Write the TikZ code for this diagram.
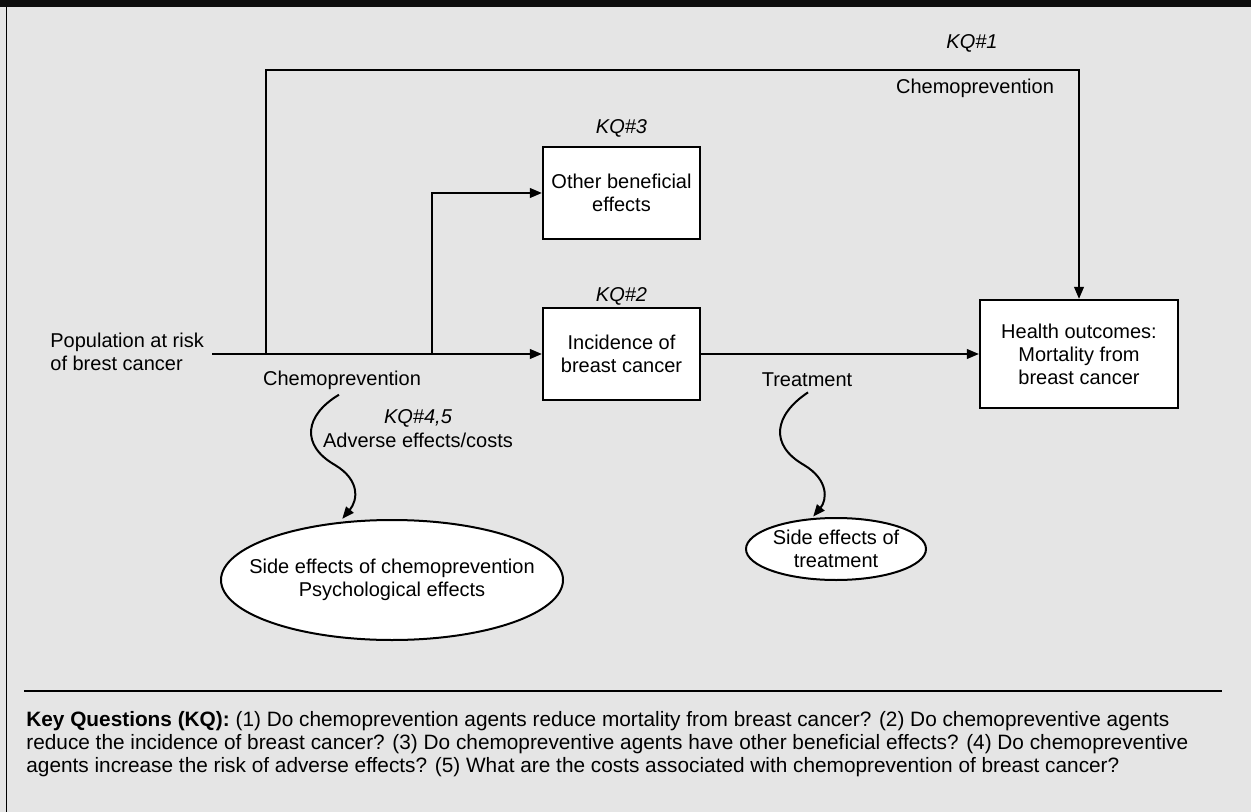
\documentclass[tikz,border=0pt]{standalone}
\usepackage{fontspec}
\setmainfont{Liberation Sans}
\usetikzlibrary{arrows.meta,shapes.geometric}
\definecolor{bggray}{HTML}{E5E5E5}
\begin{document}
\begin{tikzpicture}[x=0.5pt,y=-0.5pt,
  font=\fontsize{10}{11.5}\selectfont,
  box/.style={draw=black,fill=white,line width=1.1pt,minimum width=78.5pt,minimum height=46pt,align=center,inner sep=0pt},
  oval/.style={ellipse,draw=black,fill=white,line width=1pt,inner sep=0pt},
  lbl/.style={inner sep=0pt,align=center},
  kq/.style={inner sep=0pt,font=\fontsize{10}{11.5}\selectfont\itshape},
  arr/.style={line width=1pt,-{Triangle[length=6pt,width=4.8pt]}},
]
\useasboundingbox (0,0) rectangle (1251,812);
\fill[bggray] (0,0) rectangle (1251,812);
\fill[black!95] (0,0) rectangle (1251,7);
\draw[line width=0.8pt] (6.5,7) -- (6.5,812);

% boxes
\node[box] (incid) at (621.5,354) {Incidence of\\breast cancer};
\node[box] (other) at (621.5,193) {Other beneficial\\effects};
\node[box,minimum width=99pt,minimum height=54pt] (health) at (1079,354) {Health outcomes:\\Mortality from\\breast cancer};

% labels
\node[lbl,anchor=west,align=left] (pop) at (50,352) {Population at risk\\of brest cancer};
\node[kq] (kq2) at (621.5,296) {KQ\#2};
\node[kq] (kq3) at (621.5,128) {KQ\#3};
\node[kq] (kq1) at (972,43) {KQ\#1};
\node[lbl] (chemotop) at (975,88) {Chemoprevention};
\node[lbl] (chemolbl) at (342,380) {Chemoprevention};
\node[kq] (kq45) at (418,418) {KQ\#4,5};
\node[lbl] (adv) at (418,440) {Adverse effects/costs};
\node[lbl] (treat) at (807,380) {Treatment};

% ovals
\node[oval,minimum width=171pt,minimum height=60pt] (sidechemo) at (392,580) {};
\node[lbl] (sidechemotext) at (sidechemo) {Side effects of chemoprevention\\Psychological effects};
\node[oval,minimum width=90pt,minimum height=31pt] (sidetreat) at (836,549) {};
\node[lbl] (sidetreattext) at (sidetreat) {Side effects of\\treatment};

% connectors
\coordinate (j1) at (266,354);
\coordinate (j2) at (432,354);
\coordinate (tl) at (266,70);
\draw[arr] ([xshift=4pt]pop.east |- incid.west) -- (incid.west);
\draw[arr] (incid.east) -- (health.west);
\draw[arr] (j1) -- (tl) -| (health.north);
\draw[arr] (j2) |- (other.west);

\draw[arr,shorten >=2pt] ([shift={(-3,5)}]chemolbl.south) .. controls (305,415) and (300,445) .. (335,465)
  .. controls (360,480) and (358,500) .. (sidechemo.132);
\draw[arr,shorten >=1pt] ([shift={(1,5)}]treat.south) .. controls (774,415) and (769,445) .. (804,465)
  .. controls (829,480) and (827,500) .. (sidetreat.128);

% key questions
\draw[line width=1pt] (24,691) -- (1222,691);
\node[anchor=north west,inner sep=0pt,align=left,font=\fontsize{10.4}{11.5}\selectfont] (keyq) at (26,711) {\textbf{Key Questions (KQ):} (1) Do chemoprevention agents reduce mortality from breast cancer? (2) Do chemopreventive agents\\reduce the incidence of breast cancer? (3) Do chemopreventive agents have other beneficial effects? (4) Do chemopreventive\\agents increase the risk of adverse effects? (5) What are the costs associated with chemoprevention of breast cancer?};
\end{tikzpicture}
\end{document}
